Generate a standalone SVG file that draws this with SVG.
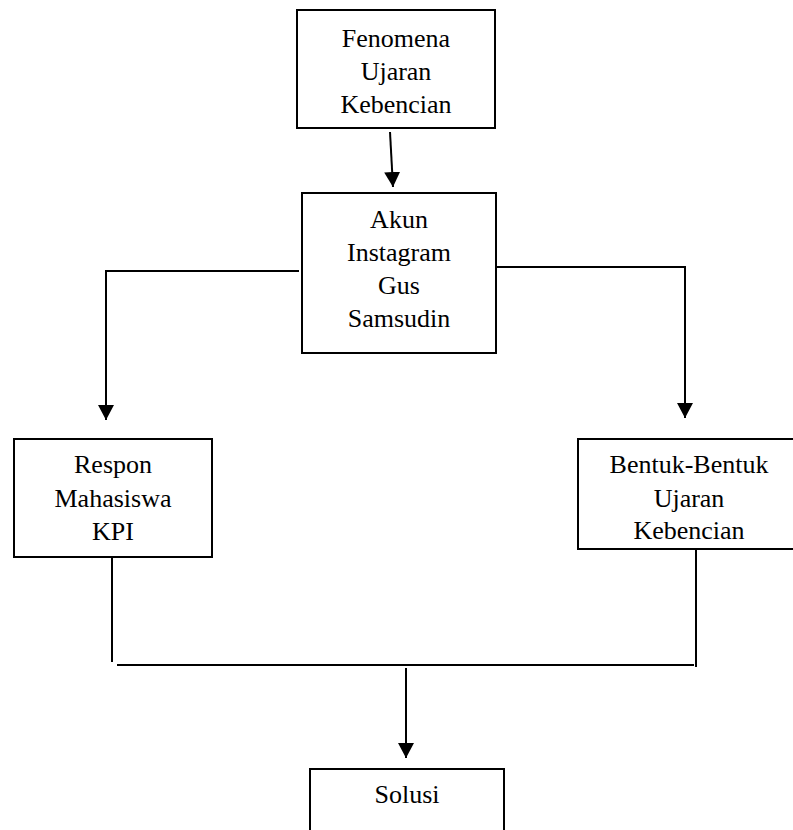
<svg xmlns="http://www.w3.org/2000/svg" width="793" height="830" viewBox="0 0 793 830">
<style>
.box{fill:#fff;stroke:#000;stroke-width:2}
.ln{fill:none;stroke:#000;stroke-width:2}
text{font-family:"Liberation Serif","Times New Roman",serif;font-size:26px;fill:#000;text-anchor:middle}
</style>
<defs>
<marker id="ah" markerUnits="userSpaceOnUse" markerWidth="16" markerHeight="16" refX="15" refY="8" orient="auto" viewBox="0 0 16 16">
<path d="M0,0 L15,8 L0,16 z" fill="#000"/>
</marker>
</defs>
<rect width="793" height="830" fill="#fff"/>
<g id="connectors">
<path class="ln" d="M390,132 L393,187" marker-end="url(#ah)"/>
<path class="ln" d="M299,271 H106 V420" marker-end="url(#ah)"/>
<path class="ln" d="M496,267 H685 V418" marker-end="url(#ah)"/>
<path class="ln" d="M112,557 V662"/>
<path class="ln" d="M696,549 V667"/>
<path class="ln" d="M117,665 H694"/>
<path class="ln" d="M406,668 V758" marker-end="url(#ah)"/>
</g>
<g id="fenomena">
<rect class="box" x="297" y="10" width="198" height="118"/>
<text x="396" y="47">Fenomena</text>
<text x="396" y="80">Ujaran</text>
<text x="396" y="113">Kebencian</text>
</g>
<g id="akun">
<rect class="box" x="302" y="193" width="194" height="160"/>
<text x="399" y="228">Akun</text>
<text x="399" y="261">Instagram</text>
<text x="399" y="294">Gus</text>
<text x="399" y="327">Samsudin</text>
</g>
<g id="respon">
<rect class="box" x="14" y="439" width="198" height="118"/>
<text x="113" y="473">Respon</text>
<text x="113" y="507">Mahasiswa</text>
<text x="113" y="540">KPI</text>
</g>
<g id="bentuk">
<rect class="box" x="578" y="439" width="225" height="110"/>
<text x="689" y="473">Bentuk-Bentuk</text>
<text x="689" y="507">Ujaran</text>
<text x="689" y="539">Kebencian</text>
</g>
<g id="solusi">
<path class="box" d="M310,840 V769 H504 V840"/>
<text x="407" y="803">Solusi</text>
</g>
</svg>
